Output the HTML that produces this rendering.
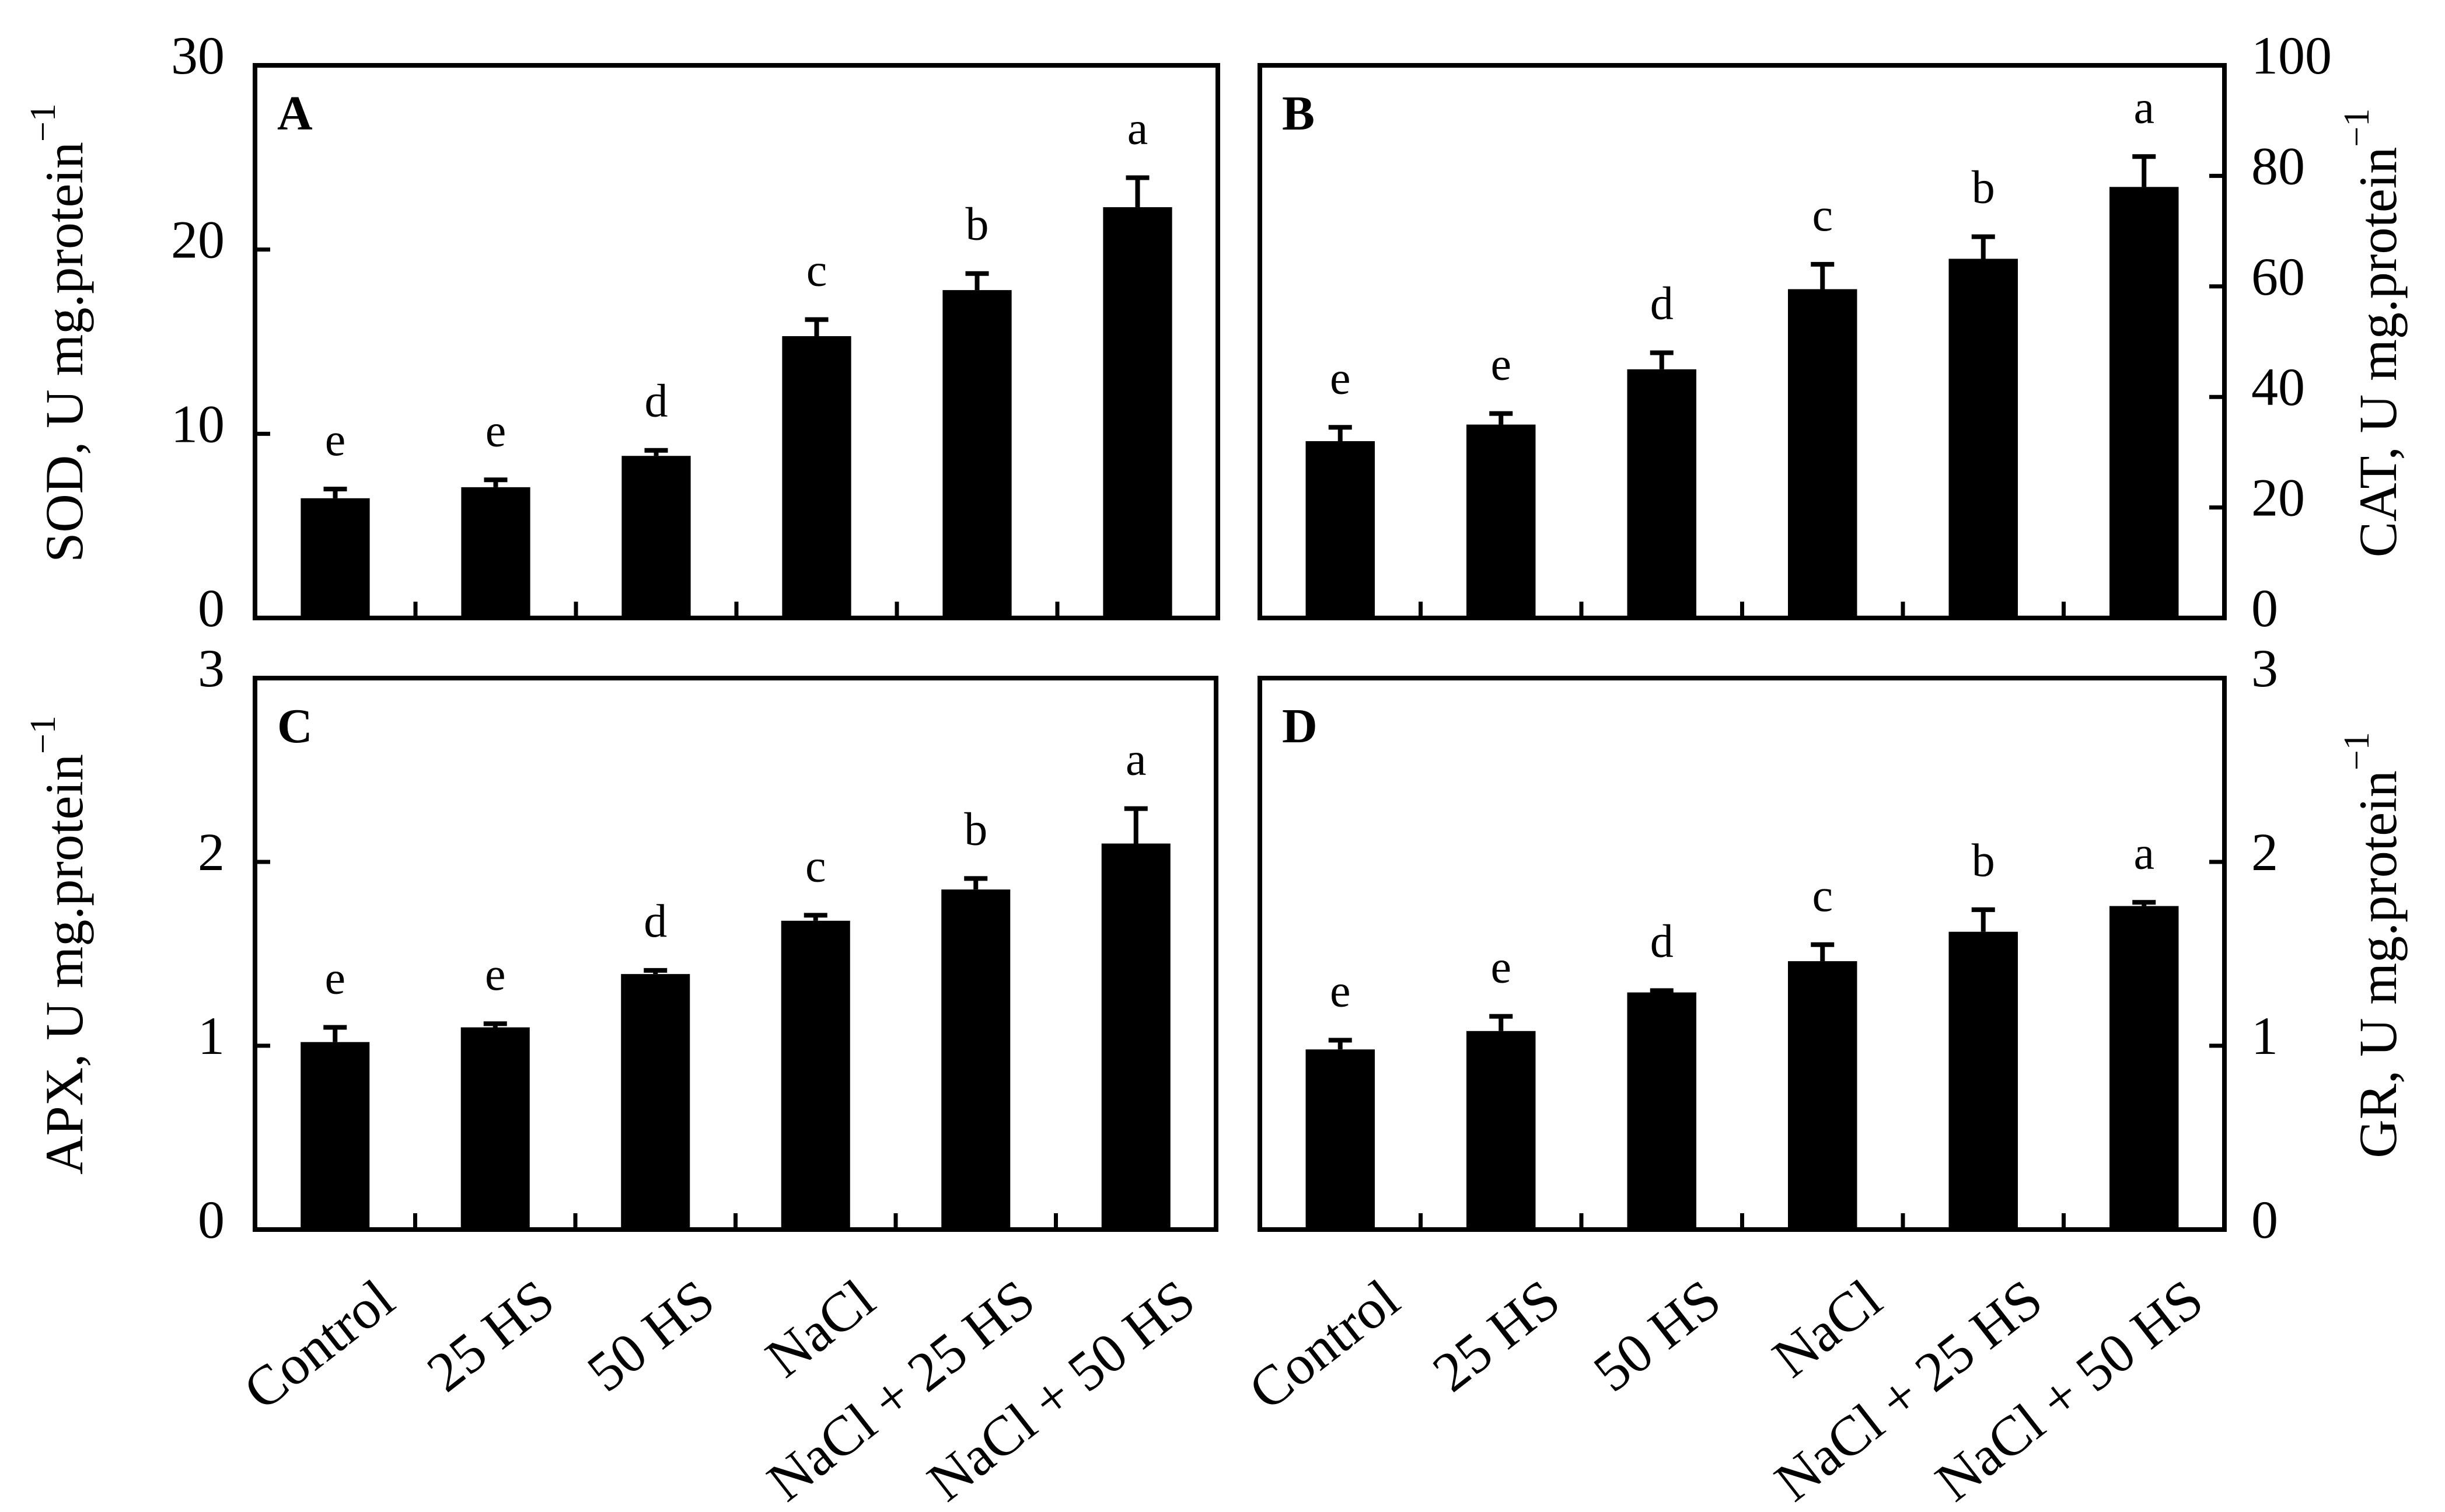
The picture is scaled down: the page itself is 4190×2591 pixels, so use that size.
<!DOCTYPE html>
<html><head><meta charset="utf-8"><style>
html,body{margin:0;padding:0;background:#fff;}
svg{display:block;font-family:"Liberation Serif",serif;}
</style></head><body>
<svg id="chart" width="4190" height="2591" viewBox="0 0 4190 2591" xmlns="http://www.w3.org/2000/svg"></svg>
<script>
const categories = ["Control","25 HS","50 HS","NaCl","NaCl + 25 HS","NaCl + 50 HS"];
const sodValues = [6.5, 7.1, 8.8, 15.3, 17.8, 22.3];
const sodErrors = [0.5, 0.4, 0.3, 0.9, 0.9, 1.6];
const sodLetters = ["e","e","d","c","b","a"];
const catValues = [32, 35, 45, 59.5, 65, 78];
const catErrors = [2.5, 2, 3, 4.5, 4, 5.5];
const catLetters = ["e","e","d","c","b","a"];
const apxValues = [1.02, 1.10, 1.39, 1.68, 1.85, 2.10];
const apxErrors = [0.08, 0.02, 0.02, 0.03, 0.06, 0.19];
const apxLetters = ["e","e","d","c","b","a"];
const grValues = [0.98, 1.08, 1.29, 1.46, 1.62, 1.76];
const grErrors = [0.05, 0.08, 0.01, 0.09, 0.12, 0.02];
const grLetters = ["e","e","d","c","b","a"];
const sodTicks = [0, 10, 20, 30];
const catTicks = [0, 20, 40, 60, 80, 100];
const apxTicks = [0, 1, 2, 3];
const grTicks = [0, 1, 2, 3];

const NS = "http://www.w3.org/2000/svg";
const svg = document.getElementById("chart");
function mk(tag, attrs, parent) {
  const e = document.createElementNS(NS, tag);
  for (const k in attrs) e.setAttribute(k, attrs[k]);
  (parent || svg).appendChild(e);
  return e;
}

const panels = [
  {id:"a", label:"A", x0:437, x1:2087, y0:112, y1:1059, max:30, ticks:sodTicks, vals:sodValues, errs:sodErrors, lets:sodLetters, side:"left", title:"SOD, U mg.protein", titleX:110},
  {id:"b", label:"B", x0:2159, x1:3812, y0:112, y1:1059, max:100, ticks:catTicks, vals:catValues, errs:catErrors, lets:catLetters, side:"right", title:"CAT, U mg.protein", titleX:4075},
  {id:"c", label:"C", x0:437, x1:2084, y0:1162, y1:2107, max:3, ticks:apxTicks, vals:apxValues, errs:apxErrors, lets:apxLetters, side:"left", title:"APX, U mg.protein", titleX:110},
  {id:"d", label:"D", x0:2159, x1:3812, y0:1162, y1:2107, max:3, ticks:grTicks, vals:grValues, errs:grErrors, lets:grLetters, side:"right", title:"GR, U mg.protein", titleX:4075}
];

panels.forEach(p => {
  const g = mk("g", {});
  
  
  const n = categories.length;
  const step = (p.x1 - p.x0) / n;
  const xc = i => p.x0 + step * (i + 0.5);
  const yv = v => p.y1 - (v / p.max) * (p.y1 - p.y0);
  const bw = step * 0.43;

  p.vals.forEach((v, i) => {
    const r = mk("rect", {x: xc(i) - bw/2, y: yv(v), width: bw, height: p.y1 - yv(v), fill: "#000"}, g);
    
    
    const top = yv(v + p.errs[i]);
    const eb = mk("path", {d: `M${xc(i)},${yv(v)} V${top} M${xc(i)-20},${top} H${xc(i)+20}`, stroke: "#000", "stroke-width": 8, fill: "none"}, g);
    
    
    const t = mk("text", {x: xc(i), y: top - 58, "text-anchor": "middle", "font-size": 80}, g);
    t.textContent = p.lets[i];
    
    
  });

  for (let i = 1; i < n; i++) {
    const x = p.x0 + step * i;
    const tk = mk("line", {x1: x, x2: x, y1: p.y1, y2: p.y1 - 28, stroke: "#000", "stroke-width": 7}, g);
    
    
  }

  p.ticks.forEach(t => {
    const y = yv(t);
    const ax = p.side === "left" ? p.x0 : p.x1;
    const dir = p.side === "left" ? 1 : -1;
    const tk = mk("line", {x1: ax, x2: ax + dir * 26, y1: y, y2: y, stroke: "#000", "stroke-width": 7}, g);
    
    
    const lx = p.side === "left" ? 385 : 3858;
    const lab = mk("text", {x: lx, y: y + 14, "text-anchor": p.side === "left" ? "end" : "start", "font-size": 92}, g);
    lab.textContent = t;
    
    
  });

  const fr = mk("rect", {x: p.x0, y: p.y0, width: p.x1 - p.x0, height: p.y1 - p.y0, fill: "none", stroke: "#000", "stroke-width": 8}, g);
  
  

  const pl = mk("text", {x: p.x0 + 38, y: p.y0 + 110, "font-size": 84, "font-weight": "bold"}, g);
  pl.textContent = p.label;
  
  

  const cy = (p.y0 + p.y1) / 2 - 15;
  const tt = mk("text", {x: p.titleX, y: cy, "text-anchor": "middle", "dominant-baseline": "central", "font-size": 92, transform: `rotate(-90 ${p.titleX} ${cy})`}, g);
  tt.textContent = p.title;
  const sup = mk("tspan", {"font-size": 62, dy: -36}, tt);
  sup.textContent = "\u22121";
  
  

  if (p.y0 > 1000) {
    categories.forEach((c, i) => {
      const x = xc(i) + 65, y = 2185;
      const xl = mk("text", {x: x, y: y, "text-anchor": "end", "dominant-baseline": "hanging", "font-size": 96, transform: `rotate(-38 ${x} ${y})`}, g);
      xl.textContent = c;
      
      
    });
  }
});
</script>
</body></html>
